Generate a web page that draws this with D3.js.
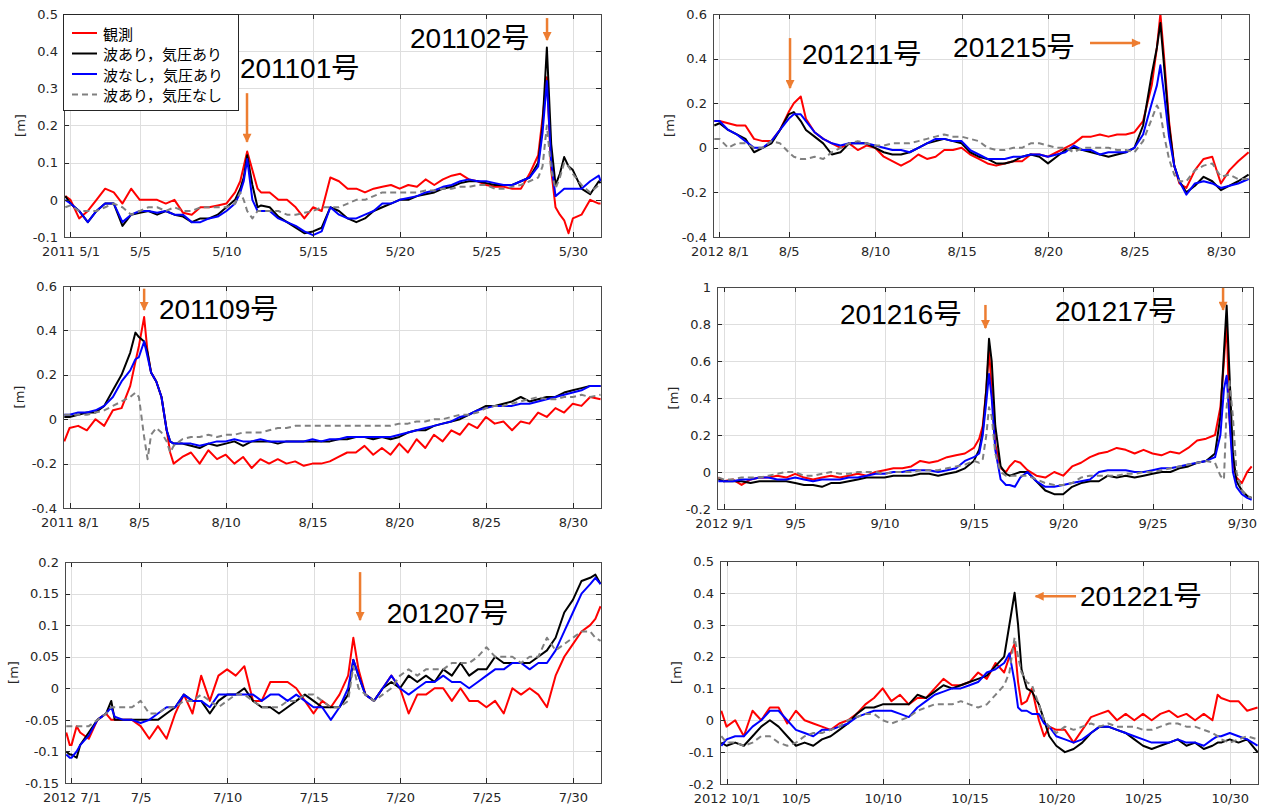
<!DOCTYPE html>
<html>
<head>
<meta charset="utf-8">
<script src="https://cdn.jsdelivr.net/npm/d3@7"></script>
<style>
  body { margin: 0; background: #fff; }
</style>
</head>
<body>
<svg id="chart" width="1266" height="807"></svg>
<script>
// series names (legend order = drawing order)
const seriesNames = ['観測', '波あり，気圧あり', '波なし，気圧あり', '波あり，気圧なし'];
const seriesColors = ['#ff0000', '#000000', '#0000ff', '#808080'];

// day-of-month ticks shown on every x axis
const tickDays = [1, 5, 10, 15, 20, 25, 30];

// ---- 2011 May (days counted from the 1st, 0 = 5/1) ----
const p1Days = [-0.3, 0, 0.5, 1, 1.5, 2, 2.5, 3, 3.5, 4,
  4.5, 5, 5.5, 6, 6.5, 7, 7.5, 8, 8.5, 9,
  9.5, 9.8, 10, 10.2, 10.5, 10.8, 11, 11.5, 12, 12.5,
  13, 13.5, 14, 14.5, 15, 15.5, 16, 16.5, 17, 17.5,
  18, 18.5, 19, 19.5, 20, 20.5, 21, 21.5, 22, 22.5,
  23, 23.5, 24, 24.5, 25, 25.5, 26, 26.5, 27, 27.25,
  27.5, 27.75, 28, 28.25, 28.5, 28.75, 29, 29.5, 30, 30.5, 30.6];
const p1Obs = [0.01, 0.0, -0.05, -0.03, 0.0, 0.03, 0.02, -0.01, 0.03, 0.0,
  0.0, 0.0, -0.01, 0.0, -0.035, -0.04, -0.02, -0.02, -0.015, -0.01,
  0.02, 0.05, 0.09, 0.13, 0.08, 0.03, 0.02, 0.02, 0.0, 0.0,
  -0.02, -0.05, -0.02, -0.03, 0.06, 0.05, 0.03, 0.03, 0.02, 0.03,
  0.035, 0.04, 0.03, 0.04, 0.035, 0.055, 0.04, 0.055, 0.065, 0.07,
  0.055, 0.05, 0.04, 0.035, 0.035, 0.03, 0.03, 0.07, 0.12, 0.22,
  0.33, 0.08, -0.02, -0.04, -0.055, -0.09, -0.05, -0.04, 0.0, -0.01, -0.01];
const p1WaveP = [0.01, -0.01, -0.03, -0.06, -0.03, -0.01, -0.01, -0.07, -0.04, -0.035,
  -0.03, -0.04, -0.03, -0.04, -0.045, -0.06, -0.05, -0.05, -0.04, -0.02,
  0.0, 0.03, 0.06, 0.12, 0.04, -0.02, -0.015, -0.02, -0.045, -0.06,
  -0.075, -0.09, -0.085, -0.075, -0.02, -0.03, -0.05, -0.06, -0.05, -0.03,
  -0.02, -0.01, 0.0, 0.0, 0.01, 0.015, 0.02, 0.03, 0.035, 0.045,
  0.05, 0.05, 0.045, 0.04, 0.04, 0.04, 0.05, 0.06, 0.1, 0.2,
  0.41, 0.15, 0.04, 0.07, 0.115, 0.09, 0.08, 0.03, 0.015, 0.05, 0.045];
const p1NoWave = [0.0, -0.01, -0.03, -0.06, -0.03, -0.01, -0.01, -0.06, -0.04, -0.03,
  -0.03, -0.035, -0.03, -0.04, -0.04, -0.06, -0.06, -0.05, -0.045, -0.03,
  -0.01, 0.02, 0.05, 0.11, 0.0, -0.03, -0.03, -0.03, -0.05, -0.06,
  -0.07, -0.085, -0.095, -0.085, -0.02, -0.04, -0.05, -0.05, -0.04, -0.03,
  -0.01, -0.01, 0.0, 0.005, 0.01, 0.02, 0.025, 0.035, 0.04, 0.05,
  0.055, 0.05, 0.05, 0.045, 0.04, 0.04, 0.05, 0.06, 0.09, 0.18,
  0.32, 0.1, 0.01, 0.02, 0.03, 0.03, 0.03, 0.03, 0.05, 0.065, 0.05];
const p1NoPress = [-0.02, -0.015, -0.03, -0.03, -0.03, -0.02, -0.01, -0.02, -0.04, -0.03,
  -0.02, -0.02, -0.03, -0.02, -0.03, -0.03, -0.02, -0.02, -0.02, -0.02,
  -0.01, 0.02, 0.0, -0.03, -0.05, -0.03, -0.03, -0.03, -0.03, -0.04,
  -0.04, -0.035, -0.03, -0.02, -0.02, -0.02, -0.01, 0.0, 0.0, 0.01,
  0.02, 0.02, 0.02, 0.02, 0.02, 0.025, 0.025, 0.03, 0.03, 0.035,
  0.035, 0.04, 0.04, 0.03, 0.03, 0.035, 0.04, 0.05, 0.06, 0.09,
  0.2, 0.08, 0.03, 0.06, 0.1, 0.09, 0.07, 0.04, 0.02, 0.04, 0.04];
const p1YTicks = [-0.1, 0, 0.1, 0.2, 0.3, 0.4, 0.5];

// ---- 2012 August ----
const p2Days = [-0.3, 0, 0.5, 1, 1.5, 2, 2.5, 3, 3.5, 4,
  4.3, 4.7, 5, 5.5, 6, 6.5, 7, 7.5, 8, 8.5,
  9, 9.5, 10, 10.5, 11, 11.5, 12, 12.5, 13, 13.5,
  14, 14.5, 15, 15.5, 16, 16.5, 17, 17.5, 18, 18.5,
  19, 19.5, 20, 20.5, 21, 21.5, 22, 22.5, 23, 23.5,
  24, 24.5, 25, 25.3, 25.5, 25.7, 26, 26.3, 26.6, 27,
  27.5, 28, 28.5, 29, 29.5, 30, 30.6];
const p2Obs = [0.12, 0.12, 0.11, 0.1, 0.1, 0.04, 0.03, 0.03, 0.08, 0.16,
  0.2, 0.23, 0.13, 0.07, 0.04, 0.02, 0.0, 0.02, -0.01, 0.01,
  0.0, -0.04, -0.06, -0.08, -0.06, -0.03, -0.05, -0.04, -0.01, -0.01,
  0.0, -0.03, -0.05, -0.07, -0.08, -0.07, -0.06, -0.06, -0.03, -0.03,
  -0.04, -0.02, 0.0, 0.02, 0.05, 0.05, 0.06, 0.05, 0.06, 0.06,
  0.07, 0.12, 0.28, 0.45, 0.6, 0.42, 0.12, -0.08, -0.16, -0.18,
  -0.1, -0.05, -0.04, -0.16, -0.1, -0.06, -0.02];
const p2WaveP = [0.1, 0.11, 0.08, 0.06, 0.04, -0.02, 0.0, 0.02, 0.08, 0.15,
  0.16, 0.12, 0.08, 0.05, 0.02, -0.03, -0.02, 0.02, 0.02, 0.02,
  0.0, -0.02, -0.03, -0.03, -0.02, 0.0, 0.02, 0.03, 0.04, 0.03,
  0.02, -0.02, -0.04, -0.05, -0.07, -0.07, -0.06, -0.04, -0.03, -0.04,
  -0.07, -0.04, -0.01, 0.0, -0.01, -0.02, -0.03, -0.04, -0.03, -0.02,
  0.0, 0.1, 0.33, 0.45, 0.56, 0.38, 0.1, -0.08, -0.15, -0.2,
  -0.17, -0.13, -0.15, -0.19, -0.17, -0.15, -0.12];
const p2NoWave = [0.12, 0.12, 0.08, 0.06, 0.03, 0.0, 0.0, 0.03, 0.08, 0.13,
  0.15, 0.15, 0.12, 0.07, 0.04, 0.02, 0.01, 0.02, 0.02, 0.02,
  0.01, 0.0, -0.01, -0.01, -0.02, 0.0, 0.02, 0.04, 0.04, 0.03,
  0.03, -0.01, -0.03, -0.05, -0.05, -0.05, -0.04, -0.04, -0.03, -0.03,
  -0.04, -0.03, -0.02, 0.01, -0.01, -0.01, -0.03, -0.02, -0.02, -0.02,
  0.0, 0.06, 0.2, 0.28, 0.37, 0.25, 0.05, -0.08, -0.15, -0.21,
  -0.16, -0.15, -0.16, -0.18, -0.17, -0.16, -0.14];
const p2NoPress = [0.04, 0.04, 0.0, 0.02, 0.02, 0.0, 0.0, 0.03, 0.02, -0.02,
  -0.04, -0.05, -0.05, -0.04, -0.05, -0.02, 0.0, 0.02, 0.03, 0.02,
  0.01, 0.01, 0.02, 0.02, 0.02, 0.03, 0.04, 0.05, 0.06, 0.05,
  0.05, 0.04, 0.03, 0.0, -0.01, -0.01, 0.0, 0.0, 0.02, 0.02,
  0.01, 0.0, 0.0, -0.02, 0.0, 0.0, 0.0, 0.0, -0.01, -0.01,
  -0.02, 0.03, 0.13, 0.19, 0.16, 0.06, -0.05, -0.12, -0.15, -0.15,
  -0.1, -0.08, -0.07, -0.13, -0.12, -0.14, -0.14];
const p2YTicks = [-0.4, -0.2, 0, 0.2, 0.4, 0.6];

// ---- 2011 August ----
const p3Days = [-0.3, 0, 0.5, 1, 1.5, 2, 2.5, 3, 3.5, 3.8,
  4, 4.3, 4.5, 4.7, 5, 5.3, 5.6, 5.8, 6, 6.5,
  7, 7.5, 8, 8.5, 9, 9.5, 10, 10.5, 11, 11.5,
  12, 12.5, 13, 13.5, 14, 14.5, 15, 15.5, 16, 16.5,
  17, 17.5, 18, 18.5, 19, 19.5, 20, 20.5, 21, 21.5,
  22, 22.5, 23, 23.5, 24, 24.5, 25, 25.5, 26, 26.5,
  27, 27.5, 28, 28.5, 29, 29.5, 30, 30.6];
const p3Obs = [-0.1, -0.04, -0.03, -0.05, 0.0, -0.03, 0.04, 0.05, 0.15, 0.26,
  0.33, 0.46, 0.3, 0.21, 0.17, 0.1, -0.05, -0.15, -0.2, -0.17,
  -0.15, -0.2, -0.14, -0.18, -0.16, -0.2, -0.17, -0.22, -0.18, -0.2,
  -0.18, -0.2, -0.19, -0.21, -0.2, -0.2, -0.19, -0.17, -0.15, -0.15,
  -0.12, -0.16, -0.13, -0.16, -0.11, -0.15, -0.09, -0.13, -0.07, -0.1,
  -0.05, -0.07, -0.02, -0.04, 0.01, -0.02, -0.01, -0.05, -0.01, -0.02,
  0.03, 0.01, 0.05, 0.03, 0.07, 0.06, 0.1, 0.09];
const p3WaveP = [0.01, 0.01, 0.02, 0.03, 0.03, 0.06, 0.13, 0.2, 0.3, 0.39,
  0.37, 0.35, 0.3, 0.21, 0.17, 0.1, -0.05, -0.1, -0.11, -0.11,
  -0.12, -0.13, -0.11, -0.12, -0.11, -0.1, -0.12, -0.1, -0.1, -0.1,
  -0.11, -0.1, -0.1, -0.1, -0.1, -0.1, -0.1, -0.09, -0.09, -0.08,
  -0.08, -0.09, -0.08, -0.09, -0.08, -0.06, -0.05, -0.05, -0.03, -0.02,
  -0.01, 0.0, 0.02, 0.04, 0.06, 0.06, 0.07, 0.08, 0.1, 0.08,
  0.09, 0.1, 0.1, 0.12, 0.13, 0.14, 0.15, 0.15];
const p3NoWave = [0.02, 0.02, 0.03, 0.03, 0.04, 0.06, 0.1, 0.17, 0.22, 0.27,
  0.28, 0.35, 0.28, 0.21, 0.17, 0.1, -0.05, -0.1, -0.11, -0.11,
  -0.11, -0.12, -0.11, -0.1, -0.1, -0.09, -0.1, -0.1, -0.09, -0.1,
  -0.1, -0.1, -0.1, -0.1, -0.09, -0.1, -0.09, -0.09, -0.08, -0.08,
  -0.08, -0.08, -0.08, -0.08, -0.07, -0.06, -0.05, -0.04, -0.03, -0.02,
  -0.01, 0.01, 0.02, 0.04, 0.05, 0.06, 0.06, 0.06, 0.07, 0.07,
  0.08, 0.09, 0.1, 0.11, 0.12, 0.13, 0.15, 0.15];
const p3NoPress = [0.02, 0.02, 0.02, 0.02, 0.03, 0.04, 0.06, 0.08, 0.1, 0.12,
  0.1, -0.08, -0.18, -0.07, -0.04, -0.06, -0.1, -0.15, -0.12, -0.09,
  -0.08, -0.08, -0.07, -0.08, -0.07, -0.07, -0.06, -0.06, -0.06, -0.05,
  -0.04, -0.04, -0.03, -0.03, -0.03, -0.03, -0.03, -0.03, -0.03, -0.03,
  -0.03, -0.03, -0.03, -0.03, -0.02, -0.02, -0.01, -0.01, 0.0, 0.0,
  0.01, 0.02, 0.02, 0.03, 0.05, 0.06, 0.06, 0.07, 0.08, 0.09,
  0.1, 0.09, 0.09, 0.1, 0.1, 0.11, 0.1, 0.11];
const p3YTicks = [-0.4, -0.2, 0, 0.2, 0.4, 0.6];

// ---- 2012 September ----
const p4Days = [-0.3, 0, 0.5, 1, 1.5, 2, 2.5, 3, 3.5, 4,
  4.5, 5, 5.5, 6, 6.5, 7, 7.5, 8, 8.5, 9,
  9.5, 10, 10.5, 11, 11.5, 12, 12.5, 13, 13.5, 14,
  14.3, 14.5, 14.7, 14.85, 15, 15.2, 15.5, 15.8, 16, 16.3,
  16.6, 17, 17.5, 18, 18.5, 19, 19.5, 20, 20.5, 21,
  21.5, 22, 22.5, 23, 23.5, 24, 24.5, 25, 25.5, 26,
  26.5, 27, 27.5, 27.8, 28, 28.15, 28.3, 28.5, 28.7, 29,
  29.3, 29.55];
const p4Obs = [-0.03, -0.05, -0.04, -0.07, -0.04, -0.03, -0.03, -0.02, -0.03, -0.01,
  -0.03, -0.04, -0.03, -0.02, -0.03, -0.02, -0.01, -0.02, 0.0, 0.01,
  0.02, 0.02, 0.03, 0.06, 0.05, 0.06, 0.08, 0.09, 0.1, 0.13,
  0.18, 0.25, 0.45, 0.66, 0.45, 0.15, 0.02, 0.0, 0.03, 0.06,
  0.05, 0.01, -0.02, -0.03, 0.0, -0.02, 0.03, 0.05, 0.08, 0.1,
  0.11, 0.13, 0.12, 0.1, 0.12, 0.1, 0.09, 0.11, 0.1, 0.13,
  0.17, 0.18, 0.2, 0.35, 0.6, 0.82, 0.3, 0.05, -0.03, -0.06,
  0.0, 0.03];
const p4WaveP = [-0.04, -0.05, -0.05, -0.05, -0.06, -0.05, -0.05, -0.05, -0.05, -0.06,
  -0.07, -0.07, -0.08, -0.06, -0.06, -0.05, -0.04, -0.03, -0.03, -0.03,
  -0.02, -0.02, -0.02, -0.01, -0.01, -0.02, -0.01, 0.0, 0.02, 0.06,
  0.12, 0.22, 0.45, 0.72, 0.6, 0.25, 0.03, -0.01, -0.02, -0.01,
  0.0, 0.0, -0.05, -0.1, -0.12, -0.12, -0.08, -0.06, -0.05, -0.05,
  -0.02, -0.03, -0.02, -0.03, -0.02, -0.01, 0.0, 0.0, 0.02, 0.03,
  0.05, 0.06, 0.1, 0.3, 0.65, 0.9, 0.55, 0.1, -0.05, -0.1,
  -0.13, -0.14];
const p4NoWave = [-0.05, -0.05, -0.05, -0.04, -0.04, -0.03, -0.03, -0.04, -0.04, -0.03,
  -0.04, -0.05, -0.04, -0.04, -0.04, -0.03, -0.03, -0.02, -0.01, -0.01,
  0.0, 0.0, 0.01, 0.01, 0.01, 0.0, 0.01, 0.02, 0.06, 0.08,
  0.1, 0.2, 0.38, 0.53, 0.4, 0.12, -0.04, -0.07, -0.07, -0.08,
  -0.03, 0.0, -0.05, -0.08, -0.08, -0.07, -0.06, -0.05, -0.04, 0.0,
  0.01, 0.01, 0.01, 0.0, 0.0, 0.01, 0.02, 0.02, 0.03, 0.04,
  0.05, 0.06, 0.08, 0.2, 0.45, 0.52, 0.3, 0.0, -0.08, -0.12,
  -0.14, -0.15];
const p4NoPress = [-0.03, -0.04, -0.04, -0.03, -0.03, -0.03, -0.02, -0.01, 0.0, 0.0,
  -0.02, -0.02, -0.01, 0.0, -0.01, -0.01, 0.0, 0.0, 0.0, -0.01,
  0.0, 0.0, 0.0, 0.01, 0.01, 0.01, 0.02, 0.03, 0.04, 0.06,
  0.05, 0.07, 0.2, 0.35, 0.3, 0.1, 0.0, -0.02, -0.02, -0.02,
  -0.02, -0.02, -0.04, -0.06, -0.07, -0.07, -0.06, -0.03, -0.02, -0.02,
  -0.02, -0.02, -0.01, -0.01, 0.0, 0.0, 0.01, 0.02, 0.03, 0.04,
  0.05, 0.06, 0.05, -0.02, -0.04, 0.35, 0.5, 0.3, 0.0, -0.1,
  -0.13, -0.14];
const p4YTicks = [-0.2, 0, 0.2, 0.4, 0.6, 0.8, 1];

// ---- 2012 July ----
const p5Days = [-0.3, -0.1, 0, 0.3, 0.5, 1, 1.5, 2, 2.3, 2.5,
  3, 3.5, 4, 4.5, 5, 5.5, 6, 6.5, 7, 7.5,
  8, 8.5, 9, 9.5, 10, 10.5, 11, 11.5, 12, 12.5,
  13, 13.5, 14, 14.5, 15, 15.5, 16, 16.3, 16.6, 17,
  17.5, 18, 18.5, 19, 19.5, 20, 20.5, 21, 21.5, 22,
  22.5, 23, 23.5, 24, 24.5, 25, 25.5, 26, 26.5, 27,
  27.5, 28, 28.5, 29, 29.5, 30, 30.3, 30.6];
const p5Obs = [-0.07, -0.09, -0.09, -0.06, -0.07, -0.08, -0.05, -0.04, -0.05, -0.05,
  -0.05, -0.05, -0.06, -0.08, -0.06, -0.08, -0.04, -0.01, -0.04, 0.02,
  -0.02, 0.02, 0.03, 0.02, 0.035, -0.02, -0.02, 0.01, 0.01, 0.01,
  0.0, -0.02, -0.04, -0.02, -0.03, -0.01, 0.02, 0.08, 0.03, -0.01,
  -0.02, 0.0, 0.02, 0.0, -0.04, -0.01, -0.01, 0.0, 0.0, -0.02,
  0.0, -0.02, -0.02, -0.03, -0.02, -0.04, 0.0, -0.01, 0.0, -0.01,
  -0.03, 0.02, 0.05, 0.07, 0.09, 0.1, 0.11, 0.13];
const p5WaveP = [-0.1, -0.105, -0.105, -0.11, -0.09, -0.07, -0.05, -0.04, -0.02, -0.05,
  -0.05, -0.05, -0.05, -0.05, -0.05, -0.04, -0.03, -0.01, -0.02, -0.02,
  -0.04, -0.02, -0.01, -0.01, 0.0, -0.02, -0.03, -0.03, -0.04, -0.03,
  -0.02, -0.01, -0.02, -0.03, -0.03, -0.03, -0.01, 0.045, 0.02, -0.01,
  -0.02, 0.0, 0.01, 0.0, 0.02, 0.01, 0.02, 0.01, 0.03, 0.02,
  0.04, 0.02, 0.03, 0.03, 0.05, 0.04, 0.04, 0.04, 0.04, 0.05,
  0.06, 0.08, 0.12, 0.14, 0.17, 0.175, 0.18, 0.165];
const p5NoWave = [-0.105, -0.11, -0.11, -0.1, -0.09, -0.075, -0.05, -0.04, -0.03, -0.045,
  -0.05, -0.05, -0.055, -0.05, -0.04, -0.03, -0.03, -0.01, -0.02, -0.02,
  -0.03, -0.01, -0.01, -0.01, -0.01, -0.01, -0.02, -0.01, -0.01, -0.02,
  -0.01, -0.02, -0.03, -0.03, -0.05, -0.03, 0.0, 0.045, 0.02, -0.01,
  -0.02, 0.0, 0.02, 0.0, -0.01, 0.0, 0.01, 0.01, 0.02, 0.01,
  0.01, 0.0, 0.01, 0.02, 0.03, 0.03, 0.04, 0.04, 0.03, 0.04,
  0.04, 0.06, 0.09, 0.12, 0.15, 0.165, 0.175, 0.165];
const p5NoPress = [-0.06, -0.06, -0.06, -0.06, -0.06, -0.06, -0.05, -0.04, -0.03, -0.03,
  -0.03, -0.03, -0.02, -0.04, -0.04, -0.03, -0.03, -0.02, -0.02, -0.01,
  -0.02, -0.03, -0.02, -0.01, -0.01, -0.02, -0.03, -0.03, -0.03, -0.02,
  -0.02, -0.01, -0.01, -0.02, -0.03, -0.03, -0.02, 0.035, 0.0, -0.01,
  -0.02, -0.01, 0.0, 0.02, 0.03, 0.02, 0.03, 0.03, 0.03, 0.04,
  0.04, 0.04, 0.05, 0.065, 0.05, 0.05, 0.05, 0.04, 0.05, 0.05,
  0.08, 0.06, 0.07, 0.08, 0.09, 0.09, 0.08, 0.075];
const p5YTicks = [-0.15, -0.1, -0.05, 0, 0.05, 0.1, 0.15, 0.2];

// ---- 2012 October ----
const p6Days = [-0.3, 0, 0.5, 1, 1.5, 2, 2.5, 3, 3.5, 4,
  4.5, 5, 5.5, 6, 6.5, 7, 7.5, 8, 8.5, 9,
  9.5, 10, 10.5, 11, 11.5, 12, 12.5, 13, 13.5, 14,
  14.5, 15, 15.5, 16, 16.3, 16.6, 16.8, 17, 17.3, 17.6,
  18, 18.3, 18.6, 19, 19.5, 20, 20.5, 21, 21.5, 22,
  22.5, 23, 23.5, 24, 24.5, 25, 25.5, 26, 26.5, 27,
  27.5, 28, 28.3, 28.5, 29, 29.5, 30, 30.6];
const p6Obs = [0.03, -0.02, 0.0, -0.05, 0.03, 0.0, 0.04, 0.04, -0.01, 0.03,
  0.0, -0.01, -0.02, -0.03, -0.01, 0.0, 0.02, 0.05, 0.07, 0.1,
  0.06, 0.08, 0.05, 0.07, 0.07, 0.1, 0.13, 0.11, 0.11, 0.12,
  0.15, 0.13, 0.18, 0.15, 0.2, 0.24, 0.12, 0.05, 0.06, 0.1,
  0.0, -0.05, -0.02, -0.03, -0.03, -0.07, -0.03, 0.01, 0.02, 0.03,
  0.0, 0.02, 0.0, 0.02, 0.0, 0.02, 0.03, 0.01, 0.02, 0.0,
  0.02, 0.0, 0.08, 0.07, 0.06, 0.06, 0.03, 0.04];
const p6WaveP = [-0.07, -0.08, -0.07, -0.08, -0.05, -0.02, 0.0, -0.02, -0.05, -0.08,
  -0.07, -0.08, -0.06, -0.05, -0.03, -0.01, 0.02, 0.04, 0.04, 0.05,
  0.05, 0.05, 0.05, 0.08, 0.07, 0.09, 0.11, 0.1, 0.11, 0.12,
  0.13, 0.14, 0.17, 0.2, 0.3, 0.4, 0.3, 0.16, 0.1, 0.09,
  0.05, 0.0, -0.05, -0.08, -0.1, -0.09, -0.07, -0.04, -0.02, -0.02,
  -0.03, -0.04, -0.06, -0.08, -0.09, -0.08, -0.07, -0.06, -0.08, -0.07,
  -0.09, -0.08, -0.07, -0.07, -0.06, -0.07, -0.06, -0.1];
const p6NoWave = [-0.08, -0.06, -0.05, -0.05, -0.02, 0.0, 0.03, 0.03, 0.0, -0.03,
  -0.04, -0.05, -0.03, -0.03, -0.02, -0.01, 0.01, 0.02, 0.03, 0.03,
  0.03, 0.02, 0.01, 0.04, 0.06, 0.08, 0.09, 0.1, 0.1, 0.11,
  0.12, 0.15, 0.16, 0.18, 0.21, 0.12, 0.04, 0.03, 0.03, 0.02,
  0.02, -0.01, -0.02, -0.05, -0.06, -0.07, -0.06, -0.04, -0.02, -0.02,
  -0.03, -0.04, -0.05, -0.06, -0.07, -0.07, -0.07, -0.06, -0.07, -0.07,
  -0.08, -0.06, -0.05, -0.05, -0.04, -0.05, -0.06, -0.08];
const p6NoPress = [-0.05, -0.07, -0.07, -0.08, -0.07, -0.05, -0.05, -0.07, -0.08, -0.07,
  -0.05, -0.04, -0.04, -0.03, -0.02, 0.0, 0.01, 0.02, 0.02, 0.0,
  -0.01, 0.0, 0.01, 0.03, 0.04, 0.05, 0.05, 0.05, 0.06, 0.05,
  0.04, 0.05, 0.08, 0.11, 0.15, 0.26, 0.2, 0.15, 0.12, 0.11,
  0.05, 0.0, -0.02, -0.04, -0.02, -0.03, -0.02, -0.01, -0.02, -0.01,
  -0.02, -0.02, -0.02, -0.03, -0.03, -0.02, -0.01, -0.01, -0.02, -0.02,
  -0.03, -0.04, -0.05, -0.06, -0.07, -0.06, -0.05, -0.06];
const p6YTicks = [-0.2, -0.1, 0, 0.1, 0.2, 0.3, 0.4, 0.5];

// panel layout; annotations are placed in data units (day, metres)
const panels = [
  { year: 2011, month: 5, nDays: 31, box: [64, 14, 601, 237], legend: true,
    days: p1Days, series: [p1Obs, p1WaveP, p1NoWave, p1NoPress], yTicks: p1YTicks,
    labels: [{ t: 9.78, v: 0.328, text: '201101号' }, { t: 19.6, v: 0.409, text: '201102号' }],
    arrows: [{ t1: 10.19, v1: 0.287, t2: 10.19, v2: 0.156 }, { t1: 27.51, v1: 0.489, t2: 27.51, v2: 0.43 }] },
  { year: 2012, month: 8, nDays: 31, box: [713, 14, 1249, 237],
    days: p2Days, series: [p2Obs, p2WaveP, p2NoWave, p2NoPress], yTicks: p2YTicks,
    labels: [{ t: 4.77, v: 0.376, text: '201211号' }, { t: 13.51, v: 0.407, text: '201215号' }],
    arrows: [{ t1: 4.08, v1: 0.492, t2: 4.08, v2: 0.268 }, { t1: 21.43, v1: 0.47, t2: 24.32, v2: 0.47 }] },
  { year: 2011, month: 8, nDays: 31, box: [63, 286, 601, 508],
    days: p3Days, series: [p3Obs, p3WaveP, p3NoWave, p3NoPress], yTicks: p3YTicks,
    labels: [{ t: 5.15, v: 0.453, text: '201109号' }],
    arrows: [{ t1: 4.3, v1: 0.588, t2: 4.3, v2: 0.492 }] },
  { year: 2012, month: 9, nDays: 30, box: [717, 287, 1253, 509],
    days: p4Days, series: [p4Obs, p4WaveP, p4NoWave, p4NoPress], yTicks: p4YTicks,
    labels: [{ t: 6.51, v: 0.8, text: '201216号' }, { t: 18.54, v: 0.816, text: '201217号' }],
    arrows: [{ t1: 14.65, v1: 0.903, t2: 14.65, v2: 0.778 }, { t1: 27.95, v1: 0.995, t2: 27.95, v2: 0.876 }] },
  { year: 2012, month: 7, nDays: 31, box: [65, 562, 601, 783],
    days: p5Days, series: [p5Obs, p5WaveP, p5NoWave, p5NoPress], yTicks: p5YTicks,
    labels: [{ t: 18.23, v: 0.103, text: '201207号' }],
    arrows: [{ t1: 16.69, v1: 0.184, t2: 16.69, v2: 0.108 }] },
  { year: 2012, month: 10, nDays: 31, box: [720, 561, 1258, 784],
    days: p6Days, series: [p6Obs, p6WaveP, p6NoWave, p6NoPress], yTicks: p6YTicks,
    labels: [{ t: 20.37, v: 0.359, text: '201221号' }],
    arrows: [{ t1: 20.14, v1: 0.389, t2: 17.81, v2: 0.389 }] }
];

const tickFont = '"DejaVu Sans", sans-serif';
const legendFont = '"Noto Sans CJK JP", sans-serif';
const noteFont = '"Liberation Sans", Arial, "Noto Sans CJK JP", sans-serif';

const svg = d3.select('#chart');
svg.append('rect').attr('width', 1266).attr('height', 807).attr('fill', '#fff');

const defs = svg.append('defs');
defs.append('marker')
    .attr('id', 'arrowHead')
    .attr('viewBox', '0 0 10 10')
    .attr('refX', 9).attr('refY', 5)
    .attr('markerWidth', 10).attr('markerHeight', 9)
    .attr('markerUnits', 'userSpaceOnUse')
    .attr('orient', 'auto')
  .append('path')
    .attr('d', 'M0,0L10,5L0,10z')
    .attr('fill', '#ed7d31');

const axisColor = '#262626';
const gridColor = '#dedede';

panels.forEach(function(p, pi) {
  const [x0, y0, x1, y1] = p.box;
  const x = d3.scaleLinear().domain([-0.375, p.nDays - 0.375]).range([x0, x1]);
  const y = d3.scaleLinear().domain(d3.extent(p.yTicks)).range([y1, y0]);
  const tickT = tickDays.map(d => d - 1);

  const g = svg.append('g').attr('class', 'panel');

  // grid
  g.append('g').selectAll('line')
    .data(tickT).enter().append('line')
      .attr('x1', d => Math.round(x(d)) + 0.5).attr('x2', d => Math.round(x(d)) + 0.5)
      .attr('y1', y0).attr('y2', y1)
      .attr('stroke', gridColor).attr('stroke-width', 1);
  g.append('g').selectAll('line')
    .data(p.yTicks).enter().append('line')
      .attr('x1', x0).attr('x2', x1)
      .attr('y1', d => Math.round(y(d)) + 0.5).attr('y2', d => Math.round(y(d)) + 0.5)
      .attr('stroke', gridColor).attr('stroke-width', 1);

  // data lines
  const clipId = 'clip' + pi;
  defs.append('clipPath').attr('id', clipId)
    .append('rect').attr('x', x0).attr('y', y0).attr('width', x1 - x0).attr('height', y1 - y0);

  const line = d3.line()
      .x(d => x(d[0]))
      .y(d => y(d[1]));

  const lines = g.append('g').attr('clip-path', 'url(#' + clipId + ')');
  p.series.forEach(function(vals, si) {
    if (vals.length !== p.days.length) {
      svg.append('text').attr('x', x0).attr('y', y0 + 20 + si * 14)
        .attr('fill', 'red').text('length mismatch panel ' + (pi + 1) + ' series ' + si);
    }
    const pts = p.days.map((t, i) => [t, vals[i]]);
    lines.append('path')
        .datum(pts)
        .attr('fill', 'none')
        .attr('stroke', seriesColors[si])
        .attr('stroke-width', 2)
        .attr('stroke-linejoin', 'round')
        .attr('stroke-dasharray', si === 3 ? '6,4' : null)
        .attr('d', line);
  });

  // inward ticks
  const tk = g.append('g').attr('stroke', axisColor).attr('stroke-width', 1);
  tickT.forEach(function(d) {
    const xx = Math.round(x(d)) + 0.5;
    tk.append('line').attr('x1', xx).attr('x2', xx).attr('y1', y1).attr('y2', y1 - 5);
    tk.append('line').attr('x1', xx).attr('x2', xx).attr('y1', y0).attr('y2', y0 + 5);
  });
  p.yTicks.forEach(function(d) {
    const yy = Math.round(y(d)) + 0.5;
    tk.append('line').attr('x1', x0).attr('x2', x0 + 5).attr('y1', yy).attr('y2', yy);
    tk.append('line').attr('x1', x1).attr('x2', x1 - 5).attr('y1', yy).attr('y2', yy);
  });

  // box
  g.append('rect')
      .attr('x', x0 + 0.5).attr('y', y0 + 0.5)
      .attr('width', x1 - x0).attr('height', y1 - y0)
      .attr('fill', 'none').attr('stroke', '#4a4a4a').attr('stroke-width', 1);

  // axes labels
  const xAxis = g.append('g')
      .attr('transform', 'translate(0,' + y1 + ')')
      .call(d3.axisBottom(x)
        .tickValues(tickT)
        .tickSize(0)
        .tickPadding(10)
        .tickFormat((d, i) => i === 0 ? p.year + ' ' + p.month + '/' + (d + 1) : p.month + '/' + (d + 1)));
  xAxis.select('.domain').remove();
  xAxis.selectAll('text')
      .style('font-family', tickFont)
      .style('font-size', '13px')
      .attr('fill', axisColor);

  const yAxis = g.append('g')
      .attr('transform', 'translate(' + x0 + ',0)')
      .call(d3.axisLeft(y)
        .tickValues(p.yTicks)
        .tickSize(0)
        .tickPadding(6)
        .tickFormat(d => String(d)));
  yAxis.select('.domain').remove();
  yAxis.selectAll('text')
      .style('font-family', tickFont)
      .style('font-size', '13px')
      .attr('fill', axisColor);

  let maxW = 0;
  yAxis.selectAll('text').each(function() {
    maxW = Math.max(maxW, this.getComputedTextLength());
  });
  const lx = x0 - 6 - maxW - 12;
  const ly = (y0 + y1) / 2;
  g.append('text')
      .attr('transform', 'translate(' + lx + ',' + ly + ') rotate(-90)')
      .attr('text-anchor', 'middle')
      .attr('dominant-baseline', 'central')
      .style('font-family', tickFont)
      .style('font-size', '13px')
      .attr('fill', axisColor)
      .text('[m]');

  // legend
  if (p.legend) {
    const lg = g.append('g');
    lg.append('rect')
        .attr('x', x0 - 0.5).attr('y', y0 + 0.5)
        .attr('width', 175).attr('height', 96)
        .attr('fill', '#fff').attr('stroke', axisColor).attr('stroke-width', 1);
    seriesNames.forEach(function(name, si) {
      const yy = y0 + 19 + si * 20.5;
      lg.append('line')
          .attr('x1', x0 + 8).attr('x2', x0 + 33)
          .attr('y1', yy).attr('y2', yy)
          .attr('stroke', seriesColors[si]).attr('stroke-width', 2)
          .attr('stroke-dasharray', si === 3 ? '6,4' : null);
      lg.append('text')
          .attr('x', x0 + 39).attr('y', yy)
          .attr('dominant-baseline', 'central')
          .style('font-family', legendFont)
          .style('font-size', '15px')
          .attr('fill', '#000')
          .text(name);
    });
  }

  // annotations
  p.arrows.forEach(function(a) {
    g.append('line')
        .attr('x1', x(a.t1)).attr('y1', y(a.v1))
        .attr('x2', x(a.t2)).attr('y2', y(a.v2))
        .attr('stroke', '#ed7d31').attr('stroke-width', 2.5)
        .attr('marker-end', 'url(#arrowHead)');
  });
  p.labels.forEach(function(l) {
    g.append('text')
        .attr('x', x(l.t)).attr('y', y(l.v))
        .style('font-family', noteFont)
        .style('font-size', '28px')
        .attr('fill', '#000')
        .text(l.text);
  });
});
</script>
</body>
</html>
